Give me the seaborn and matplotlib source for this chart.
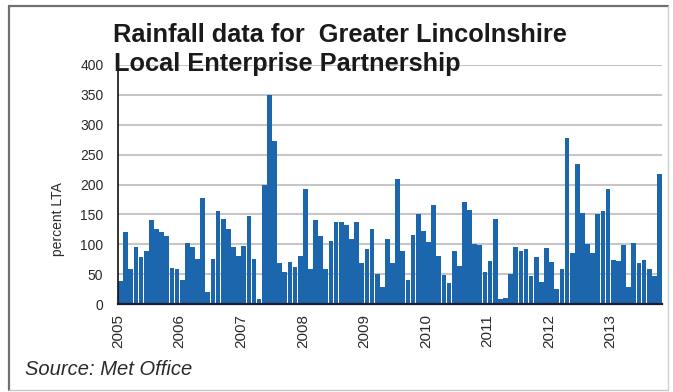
import numpy as np
import pandas as pd
import matplotlib
matplotlib.use("Agg")
import matplotlib.pyplot as plt
from matplotlib import font_manager as fm
from matplotlib.lines import Line2D
import seaborn as sns

# ---- data (percent of long-term average, monthly) ----
years = [2005, 2006, 2007, 2008, 2009, 2010, 2011, 2012, 2013]
y2005 = [39, 120, 58, 95, 78, 89, 140, 126, 120, 114, 61, 58]
y2006 = [41, 102, 95, 75, 178, 20, 75, 155, 142, 125, 95, 80]
y2007 = [97, 147, 75, 8, 200, 350, 273, 69, 54, 71, 62, 80]
y2008 = [192, 58, 141, 114, 58, 106, 138, 137, 132, 108, 137, 68]
y2009 = [92, 125, 50, 29, 108, 68, 210, 89, 41, 115, 150, 122]
y2010 = [104, 166, 80, 48, 35, 89, 63, 170, 158, 101, 98, 54]
y2011 = [72, 142, 8, 10, 51, 95, 88, 92, 47, 78, 36, 93]
y2012 = [70, 25, 58, 278, 86, 235, 152, 100, 86, 150, 155, 192]
y2013 = [74, 72, 98, 28, 102, 69, 74, 58, 47, 218]
series = [y2005, y2006, y2007, y2008, y2009, y2010, y2011, y2012, y2013]

y_ticks = [0, 50, 100, 150, 200, 250, 300, 350, 400]
title_1 = "Rainfall data for  Greater Lincolnshire"
title_2 = "Local Enterprise Partnership"
y_label = "percent LTA"
source = "Source: Met Office"

months, values = [], []
for yr, vals in zip(years, series):
    for m, v in enumerate(vals):
        months.append(f"{yr}-{m + 1:02d}")
        values.append(v)
df = pd.DataFrame({"month": months, "value": values})


def has_font(name):
    try:
        fm.findfont(fm.FontProperties(family=name), fallback_to_default=False)
        return True
    except Exception:
        return False


sns.set_theme(style="white")
base_font = "Liberation Sans" if has_font("Liberation Sans") else "DejaVu Sans"
narrow_font = "Liberation Sans Narrow" if has_font("Liberation Sans Narrow") else base_font
plt.rcParams["font.family"] = [base_font, "DejaVu Sans"]

fig = plt.figure(figsize=(6.73, 3.92), dpi=100)
fig.patch.set_facecolor("white")
ax = fig.add_axes([118 / 673, 1 - 304 / 392, 544 / 673, 239 / 392])

sns.barplot(data=df, x="month", y="value", order=months, color="#1b66ad",
            saturation=1, width=0.92, linewidth=0, ax=ax, zorder=2)

ax.set_ylim(0, 400)
ax.set_xlim(-0.5, len(months) - 0.5)
ax.set_yticks(y_ticks)
ax.set_yticklabels([str(t) for t in y_ticks], fontsize=10, color="#2a2a2a")
ax.yaxis.grid(True, color="#c6c6c6", linewidth=1.5, zorder=0)
ax.xaxis.grid(False)
ax.set_axisbelow(True)

xt = [i * 12 - 0.5 for i in range(len(years))]
ax.set_xticks(xt)
ax.set_xticklabels([str(y) for y in years], rotation=90, fontsize=11,
                   color="#2a2a2a", va="top", ha="center")

ax.tick_params(axis="y", direction="out", length=3.5, width=1, color="#333333", pad=7)
ax.tick_params(axis="x", direction="inout", length=6, width=1, color="#333333", pad=4)

for s in ["top", "right"]:
    ax.spines[s].set_visible(False)
ax.spines["left"].set_color("#111111")
ax.spines["left"].set_linewidth(1.2)
ax.spines["bottom"].set_color("#1c1c30")
ax.spines["bottom"].set_linewidth(1.6)

ax.set_xlabel("")
ax.set_ylabel(y_label, fontsize=10, color="#2a2a2a")
ax.yaxis.set_label_coords(-0.097, 0.354)

# titles
fig.text(113 / 673, 1 - 42 / 392, title_1, fontsize=18.3, fontweight="bold",
         family=[narrow_font, "DejaVu Sans"], color="#1a1a1a", va="baseline", ha="left")
fig.text(114 / 673, 1 - 71 / 392, title_2, fontsize=18.3, fontweight="bold",
         family=[narrow_font, "DejaVu Sans"], color="#1a1a1a", va="baseline", ha="left")

fig.text(25 / 673, 1 - 375 / 392, source, fontsize=14.5, style="italic",
         color="#2a2a2a", va="baseline", ha="left")

# figure frame
fig.add_artist(Line2D([9 / 673, 668 / 673], [1 - 6 / 392, 1 - 6 / 392],
                      transform=fig.transFigure, color="#707070", linewidth=1.6))
fig.add_artist(Line2D([9 / 673, 9 / 673], [1 - 6 / 392, 1 - 390 / 392],
                      transform=fig.transFigure, color="#707070", linewidth=1.6))
fig.add_artist(Line2D([668 / 673, 668 / 673], [1 - 6 / 392, 1 - 390 / 392],
                      transform=fig.transFigure, color="#d0d0d0", linewidth=1.0))
fig.add_artist(Line2D([9 / 673, 668 / 673], [1 - 390 / 392, 1 - 390 / 392],
                      transform=fig.transFigure, color="#c8c8c8", linewidth=1.0))

fig.savefig("out.png", dpi=100, facecolor="white")
